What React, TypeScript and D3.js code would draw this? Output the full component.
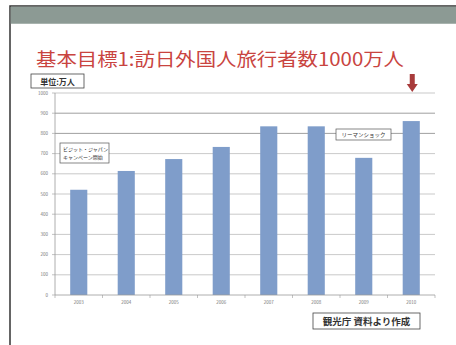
import React from "react";
import * as d3 from "d3";

const years = ["2003", "2004", "2005", "2006", "2007", "2008", "2009", "2010"];
const visitors = [521, 614, 673, 733, 835, 835, 679, 861];
const yTicks = [0, 100, 200, 300, 400, 500, 600, 700, 800, 900, 1000];
const titleText = "基本目標1:訪日外国人旅行者数1000万人";
const unitText = "単位:万人";
const sourceText = "観光庁 資料より作成";
const note1 = ["ビジット・ジャパン", "キャンペーン開始"];
const note2 = "リーマンショック";

export default function App() {
  const W = 456, H = 345;
  const x = d3.scaleBand<string>().domain(years).range([55, 435]).paddingInner(0.64).paddingOuter(0.32);
  const y = d3.scaleLinear().domain([0, 1000]).range([295, 93]);
  const step = x.step();
  const font = "'Noto Sans CJK JP', 'Noto Sans', sans-serif";
  const ax = x("2010")! + x.bandwidth() / 2 + 1;
  return (
    <svg width={W} height={H} style={{ position: "absolute", left: 0, top: 0 }} fontFamily={font}>
      <rect x={0} y={0} width={W} height={H} fill="#fff" />
      <rect x={10} y={6} width={460} height={360} fill="#fff" stroke="#333" strokeWidth={1.5} />
      <rect x={10.75} y={6.75} width={450} height={17} fill="#8c9a94" />
      <text x={36} y={66} fontSize={18} fill="#c9443f" textLength={368} lengthAdjust="spacingAndGlyphs">{titleText}</text>
      <rect x={31} y={74} width={53} height={14} fill="#fff" stroke="#444" strokeWidth={0.8} />
      <text x={57.5} y={84.5} fontSize={8} fontWeight="bold" fill="#333" textAnchor="middle">{unitText}</text>
      {yTicks.map((t) => (
        <g key={t}>
          {t > 0 && (
            <line x1={55} x2={435} y1={y(t)} y2={y(t)} stroke={t >= 800 && t < 1000 ? "#888" : "#bbb"} strokeWidth={0.8} />
          )}
          <line x1={52} x2={55} y1={y(t)} y2={y(t)} stroke="#999" strokeWidth={0.6} />
          <text x={48} y={y(t) + 1.5} fontSize={4.5} fill="#777" textAnchor="end">{t}</text>
        </g>
      ))}
      {years.map((yr, i) => (
        <rect key={yr} x={x(yr)} y={y(visitors[i])} width={x.bandwidth()} height={y(0) - y(visitors[i])} fill="#7f9dca" />
      ))}
      <line x1={55} x2={55} y1={93} y2={295} stroke="#999" strokeWidth={0.8} />
      <line x1={55} x2={435} y1={295} y2={295} stroke="#999" strokeWidth={0.8} />
      {d3.range(years.length + 1).map((i) => (
        <line key={i} x1={55 + i * step} x2={55 + i * step} y1={295} y2={298} stroke="#999" strokeWidth={0.6} />
      ))}
      {years.map((yr) => (
        <text key={yr} x={x(yr)! + x.bandwidth() / 2} y={304} fontSize={4.5} fill="#777" textAnchor="middle">{yr}</text>
      ))}
      <rect x={60} y={143} width={49} height={20} fill="#fff" stroke="#555" strokeWidth={0.7} />
      <text x={63} y={151} fontSize={5} fill="#333">{note1[0]}</text>
      <text x={63} y={159} fontSize={5} fill="#333">{note1[1]}</text>
      <rect x={336} y={129} width={55} height={11} fill="#fff" stroke="#555" strokeWidth={0.7} />
      <text x={363.5} y={136.5} fontSize={5.5} fill="#333" textAnchor="middle">{note2}</text>
      <path d={`M${ax - 2.5},74 L${ax + 2.5},74 L${ax + 2.5},84 L${ax + 5.5},84 L${ax},92 L${ax - 5.5},84 L${ax - 2.5},84 Z`} fill="#a83b3b" />
      <rect x={313} y={313} width={107} height={16} fill="#fff" stroke="#444" strokeWidth={0.8} />
      <text x={366.5} y={324.5} fontSize={9.5} fontWeight="bold" fill="#333" textAnchor="middle">{sourceText}</text>
    </svg>
  );
}
